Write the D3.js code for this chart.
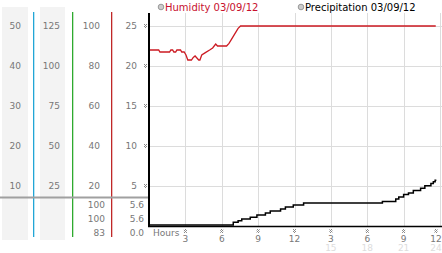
<!DOCTYPE html>
<html>
<head>
<meta charset="utf-8">
<script src="https://cdn.jsdelivr.net/npm/d3@7"></script>
<style>
  body { margin: 0; background: #fff; }
  svg { display: block; font-family: "DejaVu Sans", Verdana, sans-serif; font-size: 9px; }
</style>
</head>
<body>
<svg id="chart" width="442" height="253"></svg>
<script>
// ---- data ----
var hourTicks = [3, 6, 9, 12, 15, 18, 21, 24];
var hourLabels = ["3", "6", "9", "12", "3", "6", "9", "12"];
var hourLabels2 = ["", "", "", "", "15", "18", "21", "24"];

var col1Ticks = [10, 20, 30, 40, 50];
var col2Ticks = [25, 50, 75, 100, 125];
var humTicks = [20, 40, 60, 80, 100];
var precTicks = [5, 10, 15, 20, 25];

var humStats = ["100", "100", "83"];
var precStats = ["5.6", "5.6", "0.0"];

var humHours = [0, 0.8, 0.9, 1.7, 1.8, 1.95, 2.05, 2.2, 2.3, 2.6, 2.7, 2.9, 3.05, 3.2, 3.5, 3.65, 3.8, 3.95, 4.1, 4.2, 4.35, 4.65, 5.0, 5.25, 5.5, 5.65, 6.4, 6.6, 6.8, 7.1, 7.35, 7.55, 23.65];
var humValues = [88, 88, 87, 87, 88, 88, 87, 87, 88, 88, 87, 87, 85.5, 83, 83, 84.3, 85, 84, 83, 83, 85.5, 86.7, 88, 89, 91, 90, 90, 91.3, 93.3, 96.3, 98.8, 100, 100];

var precHours = [0, 6.95, 7.35, 7.65, 8.35, 8.9, 9.6, 10.0, 10.85, 11.25, 11.9, 12.75, 19.25, 20.35, 20.6, 21.0, 21.4, 21.8, 22.4, 22.75, 23.25, 23.45, 23.6, 23.7];
var precValues = [0, 0.33, 0.54, 0.75, 0.96, 1.25, 1.5, 1.75, 2.0, 2.25, 2.5, 2.75, 2.95, 3.25, 3.5, 3.8, 4.0, 4.3, 4.6, 4.9, 5.2, 5.4, 5.6, 5.6];

// ---- layout ----
var svg = d3.select("#chart");
var yTop = 26, yBottom = 226, plotTop = 13;

var x = d3.scaleLinear().domain([0, 24]).range([149, 440]);
var yPrec = d3.scaleLinear().domain([0, 25]).range([yBottom, yTop]);
var yHum = d3.scaleLinear().domain([0, 100]).range([yBottom, yTop]);
var yCol1 = d3.scaleLinear().domain([0, 50]).range([yBottom, yTop]);
var yCol2 = d3.scaleLinear().domain([0, 125]).range([yBottom, yTop]);

// dotted tick mark pattern
var defs = svg.append("defs");
var pat = defs.append("pattern").attr("id", "dots")
  .attr("width", 2).attr("height", 2).attr("patternUnits", "userSpaceOnUse");
pat.append("rect").attr("x", 0).attr("y", 0).attr("width", 1).attr("height", 1).attr("fill", "#888");
pat.append("rect").attr("x", 1).attr("y", 1).attr("width", 1).attr("height", 1).attr("fill", "#888");

// gray panels on the left
[[2, 28], [40, 65]].forEach(function(p) {
  svg.append("rect").attr("x", p[0]).attr("y", 7)
    .attr("width", p[1] - p[0]).attr("height", 233).attr("fill", "#f3f3f3");
});

// colored separators
[[33, "#22a6d6"], [72, "#2eaa2e"], [111, "#c02828"]].forEach(function(s) {
  svg.append("rect").attr("x", s[0]).attr("width", 1.3)
    .attr("y", 12).attr("height", 225).attr("fill", s[1]);
});

// grid
var grid = svg.append("g").attr("stroke", "#dcdcdc").attr("stroke-width", 1).attr("shape-rendering", "crispEdges");
grid.selectAll(".hg").data(precTicks).enter().append("line")
  .attr("x1", x(0)).attr("x2", 442)
  .attr("y1", function(d) { return yPrec(d) + 0.5; })
  .attr("y2", function(d) { return yPrec(d) + 0.5; });
grid.selectAll(".vg").data(hourTicks).enter().append("line")
  .attr("x1", function(d) { return Math.round(x(d)) + 0.5; })
  .attr("x2", function(d) { return Math.round(x(d)) + 0.5; })
  .attr("y1", plotTop).attr("y2", yBottom);

// left axis columns
function column(scale, ticks, xPos) {
  var g = svg.append("g").attr("transform", "translate(" + xPos + ",0)");
  g.call(d3.axisLeft(scale).tickValues(ticks).tickSize(0).tickPadding(0));
  g.select(".domain").remove();
  g.selectAll("text").attr("fill", "#777").attr("text-anchor", "end")
    .style("font-family", "DejaVu Sans, Verdana, sans-serif").style("font-size", "9px");
  return g;
}
column(yCol1, col1Ticks, 21);
column(yCol2, col2Ticks, 60);
column(yHum, humTicks, 100);
column(yPrec, precTicks, 137);

// y tick marks
svg.selectAll(".ytm").data(precTicks).enter().append("rect")
  .attr("x", 144).attr("y", function(d) { return yPrec(d) - 2; })
  .attr("width", 3).attr("height", 4).attr("fill", "url(#dots)");

// gray separator line
svg.append("line").attr("x1", 0).attr("x2", 149).attr("y1", 197.5).attr("y2", 197.5)
  .attr("stroke", "#a0a0a0").attr("stroke-width", 2);

// stats rows
humStats.forEach(function(v, i) {
  svg.append("text").attr("x", 105).attr("y", 208 + i * 14).attr("text-anchor", "end")
    .attr("fill", "#777").text(v);
});
precStats.forEach(function(v, i) {
  svg.append("text").attr("x", 144).attr("y", 208 + i * 14).attr("text-anchor", "end")
    .attr("fill", "#777").text(v);
});

// series
var humLine = d3.line()
  .x(function(d, i) { return x(humHours[i]); })
  .y(function(d) { return yHum(d); });
svg.append("path").attr("d", humLine(humValues))
  .attr("fill", "none").attr("stroke", "#cc1a22").attr("stroke-width", 1.3);

var precLine = d3.line()
  .x(function(d, i) { return x(precHours[i]); })
  .y(function(d) { return yPrec(d) - 1; })
  .curve(d3.curveStepAfter);
svg.append("path").attr("d", precLine(precValues))
  .attr("fill", "none").attr("stroke", "#000").attr("stroke-width", 1.5);

// axes lines
svg.append("line").attr("x1", 149).attr("x2", 149).attr("y1", plotTop).attr("y2", 227)
  .attr("stroke", "#000").attr("stroke-width", 2);
svg.append("line").attr("x1", 148).attr("x2", 442).attr("y1", 226.5).attr("y2", 226.5)
  .attr("stroke", "#000").attr("stroke-width", 1.5);

// x labels
svg.append("text").attr("x", 153).attr("y", 236).attr("fill", "#777").text("Hours");
svg.selectAll(".xtm").data(hourTicks).enter().append("rect")
  .attr("x", function(d) { return Math.min(x(d), 436) - 1.5; })
  .attr("y", 229).attr("width", 3).attr("height", 4).attr("fill", "url(#dots)");
svg.selectAll(".xl").data(hourTicks).enter().append("text")
  .attr("x", function(d) { return Math.min(x(d), 436); })
  .attr("y", 242).attr("text-anchor", "middle").attr("fill", "#777")
  .text(function(d, i) { return hourLabels[i]; });
svg.selectAll(".xl2").data(hourTicks).enter().append("text")
  .attr("x", function(d) { return Math.min(x(d), 436); })
  .attr("y", 251).attr("text-anchor", "middle").attr("fill", "#ddd")
  .text(function(d, i) { return hourLabels2[i]; });

// legend
var legend = [["Humidity 03/09/12", "#c8102e", 161], ["Precipitation 03/09/12", "#000", 301]];
legend.forEach(function(l) {
  svg.append("circle").attr("cx", l[2]).attr("cy", 7).attr("r", 2.8)
    .attr("fill", "#ccc").attr("stroke", "#999").attr("stroke-width", 1);
  svg.append("text").attr("x", l[2] + 4).attr("y", 11).attr("fill", l[1])
    .style("font-size", "10px").text(l[0]);
});
</script>
</body>
</html>
